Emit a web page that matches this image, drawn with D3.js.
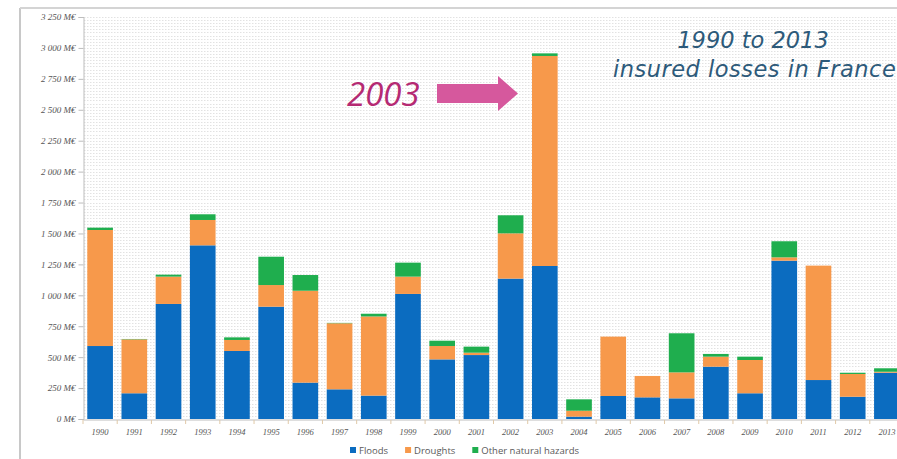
<!DOCTYPE html>
<html>
<head>
<meta charset="utf-8">
<script src="https://cdn.jsdelivr.net/npm/d3@7"></script>
<style>
  body { margin: 0; background: #fff; }
  svg { display: block; }
</style>
</head>
<body>
<div id="chart"></div>
<script>
// insured losses in France, M€ per year
var years = ["1990","1991","1992","1993","1994","1995","1996","1997","1998","1999","2000","2001",
             "2002","2003","2004","2005","2006","2007","2008","2009","2010","2011","2012","2013"];
var floods   = [590, 208, 930, 1404, 550, 908, 294, 240, 189, 1011, 482, 517,
                1135, 1237, 19, 186, 175, 167, 423, 208, 1280, 315, 180, 374];
var droughts = [938, 436, 221, 205, 89, 175, 743, 534, 640, 140, 108, 19,
                366, 1698, 48, 480, 173, 210, 81, 269, 27, 925, 184, 8];
var others   = [19, 3, 16, 46, 21, 229, 127, 3, 22, 113, 43, 49,
                146, 21, 92, 0, 0, 316, 22, 27, 130, 0, 10, 28];
var seriesNames = ["Floods", "Droughts", "Other natural hazards"];
var yTicks = [0, 250, 500, 750, 1000, 1250, 1500, 1750, 2000, 2250, 2500, 2750, 3000, 3250];

var W = 897, H = 459;
var colors = ["#0b6cc0", "#f7994b", "#1fae4e"];

var svg = d3.select("#chart").append("svg")
    .attr("width", W).attr("height", H);

// outer frame
svg.append("line").attr("x1", 20).attr("x2", 20).attr("y1", 8).attr("y2", H)
    .attr("stroke", "#c8c8c8").attr("stroke-width", 2);
svg.append("line").attr("x1", 20).attr("x2", W).attr("y1", 8).attr("y2", 8)
    .attr("stroke", "#d4d4d4").attr("stroke-width", 2);

var x = d3.scaleBand().domain(years).range([83, 904]).paddingInner(0.25).paddingOuter(0.125);
var y = d3.scaleLinear().domain([0, 3250]).range([419, 17]);

// dense dotted background grid
svg.append("g").selectAll("line")
    .data(d3.range(25, 3251, 25))
    .enter().append("line")
    .attr("x1", 84).attr("x2", W)
    .attr("y1", function(d) { return Math.round(y(d)) + 0.5; })
    .attr("y2", function(d) { return Math.round(y(d)) + 0.5; })
    .attr("stroke", "#e2e2e2")
    .attr("stroke-dasharray", "1.5,1.5");

// stacked bars
var table = years.map(function(yr, i) {
  return { year: yr, Floods: floods[i], Droughts: droughts[i], "Other natural hazards": others[i] };
});
var stack = d3.stack().keys(seriesNames)(table);

svg.append("g").selectAll("g")
    .data(stack)
    .enter().append("g")
    .attr("fill", function(d, i) { return colors[i]; })
    .selectAll("rect")
    .data(function(d) { return d; })
    .enter().append("rect")
    .attr("x", function(d) { return x(d.data.year); })
    .attr("width", x.bandwidth())
    .attr("y", function(d) { return y(d[1]); })
    .attr("height", function(d) { return y(d[0]) - y(d[1]); });

// y axis
var yAxis = svg.append("g").attr("transform", "translate(83.5,0)")
    .call(d3.axisLeft(y).tickValues(yTicks).tickSize(5).tickPadding(3)
      .tickFormat(function(d) { return d3.format(",")(d).replace(",", " ") + " M€"; }));
yAxis.select(".domain").attr("stroke", "#bdbdbd");
yAxis.selectAll(".tick line").attr("stroke", "#bdbdbd");
yAxis.selectAll("text")
    .attr("fill", "#555")
    .attr("font-family", "'Liberation Serif', serif")
    .attr("font-style", "italic")
    .attr("font-size", "9px");

// x axis
var xAxis = svg.append("g").attr("transform", "translate(0,419.5)")
    .call(d3.axisBottom(x).tickSize(0).tickPadding(9));
xAxis.select(".domain").attr("stroke", "#bdbdbd");
xAxis.selectAll("text")
    .attr("fill", "#555")
    .attr("font-family", "'Liberation Serif', serif")
    .attr("font-style", "italic")
    .attr("font-size", "8.5px");
svg.append("g").selectAll("line")
    .data(years)
    .enter().append("line")
    .attr("x1", function(d) { return x(d) - x.step() * x.paddingInner() / 2; })
    .attr("x2", function(d) { return x(d) - x.step() * x.paddingInner() / 2; })
    .attr("y1", 420).attr("y2", 424)
    .attr("stroke", "#e0c9a8");

// legend
var legend = svg.append("g").attr("transform", "translate(350,450)");
var lx = 0;
seriesNames.forEach(function(name, i) {
  var g = legend.append("g").attr("transform", "translate(" + lx + ",0)");
  g.append("rect").attr("x", 0).attr("y", -3).attr("width", 6).attr("height", 6).attr("fill", colors[i]);
  var t = g.append("text").attr("x", 9).attr("y", 3.5)
      .attr("font-family", "'Open Sans', sans-serif")
      .attr("font-size", "9.5px")
      .attr("fill", "#595959")
      .text(name);
  lx += 9 + t.node().getComputedTextLength() + 17;
});

// titles
svg.append("text").attr("x", 753).attr("y", 48)
    .attr("text-anchor", "middle")
    .attr("font-family", "'DejaVu Sans', sans-serif")
    .attr("font-style", "italic")
    .attr("font-size", "22.5px")
    .attr("fill", "#2d5a7a")
    .text("1990 to 2013");
svg.append("text").attr("x", 613).attr("y", 77)
    .attr("font-family", "'DejaVu Sans', sans-serif")
    .attr("font-style", "italic")
    .attr("font-size", "22.5px")
    .attr("letter-spacing", "0.5px")
    .attr("fill", "#2d5a7a")
    .text("insured losses in France");

// 2003 annotation
svg.append("text").attr("x", 347).attr("y", 106)
    .attr("font-family", "'Open Sans', sans-serif")
    .attr("font-style", "italic")
    .attr("font-size", "33px")
    .attr("fill", "#b52a73")
    .text("2003");
svg.append("path")
    .attr("d", "M437,84 L498,84 L498,76 L518,93.5 L498,111 L498,103 L437,103 Z")
    .attr("fill", "#d6589d");
</script>
</body>
</html>
